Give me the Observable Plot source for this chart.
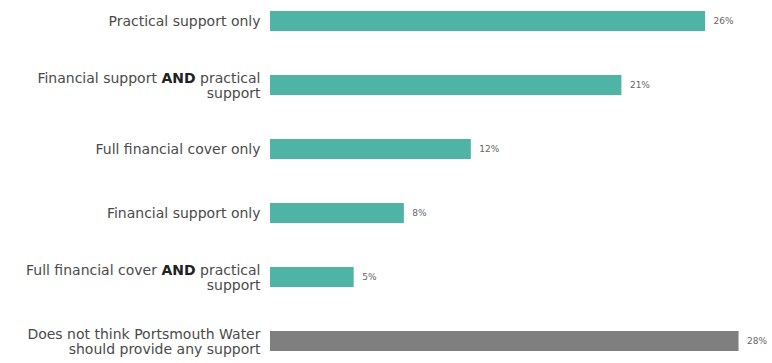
<!DOCTYPE html>
<html>
<head>
<meta charset="utf-8">
<script src="https://cdn.jsdelivr.net/npm/d3@7"></script>
<script src="https://cdn.jsdelivr.net/npm/@observablehq/plot@0.6"></script>
<style>
  html, body { margin: 0; padding: 0; background: #fff; }
  #chart svg { display: block; }
</style>
</head>
<body>
<div id="chart"></div>
<script>
const categories = [
  "Practical support only",
  "Financial support AND practical\nsupport",
  "Full financial cover only",
  "Financial support only",
  "Full financial cover AND practical\nsupport",
  "Does not think Portsmouth Water\nshould provide any support"
];
const values = [26, 21, 12, 8, 5, 28];
const groups = ["support", "support", "support", "support", "support", "none"];
const valueLabels = ["26%", "21%", "12%", "8%", "5%", "28%"];

const data = categories.map((c, i) => ({cat: c, value: values[i], group: groups[i], label: valueLabels[i]}));

const chart = Plot.plot({
  width: 772,
  height: 363,
  marginLeft: 270,
  marginRight: 0,
  marginTop: 8,
  marginBottom: 10,
  style: {fontFamily: "'DejaVu Sans', sans-serif", background: "#fff"},
  x: {domain: [0, 30], axis: null},
  y: {domain: categories, paddingInner: 0.69, paddingOuter: 0, label: null},
  color: {domain: ["support", "none"], range: ["#4fb3a5", "#7f7f7f"]},
  marks: [
    Plot.barX(data, {x: "value", y: "cat", fill: "group"}),
    Plot.text(data, {x: "value", y: "cat", text: "label", textAnchor: "start", dx: 8, fontSize: 9, fill: "#666"}),
    Plot.axisY({tickSize: 0, tickPadding: 10, fontSize: 14, letterSpacing: 0.8, color: "#4a4a4a", label: null, lineHeight: 1.1})
  ]
});
document.getElementById("chart").appendChild(chart);

// Bold the word "AND" inside the category labels
chart.querySelectorAll("tspan, text").forEach(el => {
  if (el.children.length === 0 && el.textContent.includes(" AND ")) {
    const [before, after] = el.textContent.split(" AND ");
    el.textContent = "";
    const ns = "http://www.w3.org/2000/svg";
    const t1 = document.createElementNS(ns, "tspan"); t1.textContent = before + " ";
    const t2 = document.createElementNS(ns, "tspan"); t2.textContent = "AND"; t2.setAttribute("font-weight", "bold"); t2.setAttribute("fill", "#222");
    const t3 = document.createElementNS(ns, "tspan"); t3.textContent = " " + after;
    el.append(t1, t2, t3);
  }
});
</script>
</body>
</html>
